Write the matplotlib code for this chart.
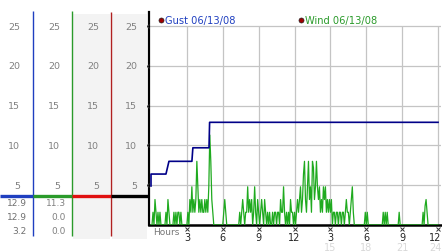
import numpy as np
import matplotlib
matplotlib.use("Agg")
from matplotlib import pyplot as plt

# ---------------------------------------------------------------- data
# gust (mph), step line over the day
gust_hours = [0.0, 0.0, 1.25, 1.5, 3.42, 3.5, 4.85, 4.9, 24.0]
gust_mph = [4.9, 6.4, 6.4, 8.0, 8.0, 9.7, 9.7, 12.9, 12.9]

# wind (mph), 5-minute samples, one row per hour
wind_mph = [
    0, 0, 1.6, 0, 3.2, 1.6, 0, 1.6, 0, 1.6, 0, 0,
    0, 0, 0, 1.6, 0, 3.2, 1.6, 0, 0, 0, 0, 1.6,
    0, 1.6, 0, 1.6, 1.6, 0, 1.6, 0, 0, 0, 0, 0,
    0, 1.6, 0, 3.2, 1.6, 4.8, 1.6, 3.2, 1.6, 3.2, 8.0, 4.8,
    1.6, 3.2, 1.6, 3.2, 1.6, 1.6, 3.2, 1.6, 3.2, 1.6, 4.8, 11.3,
    8.0, 3.2, 1.6, 0, 0, 0, 0, 0, 0, 0, 0, 0,
    0, 1.6, 3.2, 1.6, 0, 0, 0, 0, 0, 0, 0, 0,
    0, 0, 0, 0, 0, 1.6, 0, 1.6, 3.2, 1.6, 0, 1.6,
    1.6, 4.8, 1.6, 3.2, 1.6, 3.2, 0, 1.6, 4.8, 1.6, 0, 3.2,
    1.6, 0, 1.6, 3.2, 1.6, 0, 3.2, 1.6, 0, 1.6, 0, 1.6,
    0, 0, 1.6, 0, 1.6, 1.6, 0, 1.6, 1.6, 0, 3.2, 1.6,
    1.6, 4.8, 1.6, 0, 1.6, 0, 1.6, 0, 3.2, 1.6, 1.6, 0,
    1.6, 0, 1.6, 3.2, 1.6, 3.2, 4.8, 1.6, 3.2, 6.4, 8.0, 3.2,
    1.6, 4.8, 8.0, 3.2, 4.8, 1.6, 8.0, 7.2, 3.2, 4.8, 8.0, 4.8,
    3.2, 4.8, 1.6, 3.2, 1.6, 4.8, 3.2, 4.8, 1.6, 3.2, 1.6, 3.2,
    1.6, 3.2, 0, 1.6, 1.6, 0, 1.6, 1.6, 0, 1.6, 1.6, 0,
    1.6, 1.6, 0, 1.6, 3.2, 1.6, 1.6, 0, 1.6, 3.2, 4.8, 1.6,
    0, 0, 0, 0, 0, 0, 0, 0, 0, 0, 0, 1.6,
    0, 1.6, 0, 0, 0, 0, 0, 0, 0, 0, 0, 0,
    0, 0, 0, 0, 0, 1.6, 0, 1.6, 0, 1.6, 0, 0,
    0, 0, 0, 0, 0, 0, 0, 0, 0, 1.6, 0, 0,
    0, 0, 0, 0, 0, 0, 0, 0, 0, 0, 0, 0,
    0, 0, 0, 0, 0, 0, 0, 0, 0, 1.6, 0, 2.4,
    3.2, 1.6, 0, 0, 0, 0, 0, 0, 0, 0, 0, 0,
    0,
]
wind_hours = np.arange(len(wind_mph)) / 12.0

y_ticks = [5, 10, 15, 20, 25]
x_ticks = [3, 6, 9, 12, 15, 18, 21, 24]
x_labels = ["3", "6", "9", "12", "3", "6", "9", "12"]
x_labels_24 = ["15", "18", "21", "24"]

gust_stats = ["12.9", "12.9", "3.2"]
wind_stats = ["11.3", "0.0", "0.0"]

legend_items = [("Gust 06/13/08", 0.0, "#1f3fc0"), ("Wind 06/13/08", 11.7, "#2a9a2a")]

# ---------------------------------------------------------------- layout
W, H = 442, 253
PX_UNIT = 7.96      # pixels per mph
Y0 = 226            # pixel row of 0 mph
X0 = 151            # pixel column of hour 0
PX_HOUR = 11.96

fig = plt.figure(figsize=(W / 100, H / 100), dpi=100)
fig.patch.set_facecolor("white")

def v2px(v):
    return Y0 - v * PX_UNIT

# main plot
left, right, top = 149, 441, 13
ax = fig.add_axes([left / W, (H - Y0) / H, (right - left) / W, (Y0 - top) / H])
ax.set_xlim((left - X0) / PX_HOUR, (right - X0) / PX_HOUR)
ax.set_ylim(0, (Y0 - top) / PX_UNIT)
ax.set_facecolor("white")
for s in ["top", "right"]:
    ax.spines[s].set_visible(False)
ax.spines["left"].set_linewidth(1.6)
ax.spines["bottom"].set_linewidth(1.8)
ax.spines["left"].set_color("black")
ax.spines["bottom"].set_color("black")
ax.set_xticks([])
ax.set_yticks([])

ax.hlines(y_ticks, ax.get_xlim()[0], ax.get_xlim()[1], color="#c4c4c4", lw=0.9, zorder=1)
ax.vlines(x_ticks, 0, 25, color="#c4c4c4", lw=0.9, zorder=1)

ax.plot(wind_hours, wind_mph, color="#1faa1f", lw=0.9, zorder=3)
ax.plot(gust_hours, gust_mph, color="#000088", lw=1.2, zorder=4)

# small tick marks
ax.plot([-0.3] * len(y_ticks), y_ticks, ls="none", marker="x", ms=2.2, mew=0.7,
        color="#333333", clip_on=False, zorder=5)
ax.plot(x_ticks, [-0.5] * len(x_ticks), ls="none", marker="x", ms=2.2, mew=0.7,
        color="#333333", clip_on=False, zorder=5)

for xt, lab in zip(x_ticks, x_labels):
    xt = min(xt, 23.75)
    ax.text(xt, -1.5, lab, ha="center", va="center", fontsize=7, color="#222222", clip_on=False)
for xt, lab in zip(x_ticks[4:], x_labels_24):
    xt = min(xt, 23.75)
    ax.text(xt, -2.75, lab, ha="center", va="center", fontsize=7, color="#d8d8d8", clip_on=False)
ax.text(0.15, -0.8, "Hours", ha="left", va="center", fontsize=6.5, color="#777777", clip_on=False)

# legend
for lab, xh, col in legend_items:
    ax.plot([xh + 0.85], [25.7], ls="none", marker="o", ms=3.6, mfc="#a00000", mec="#222222",
            mew=0.5, clip_on=False)
    ax.text(xh + 1.15, 25.75, lab, ha="left", va="center", fontsize=7.1, color=col)

# left panel (pixel coordinates)
axl = fig.add_axes([0, 0, left / W, 1])
axl.set_xlim(0, left)
axl.set_ylim(H, 0)
axl.axis("off")

axl.fill_between([73, 110], 15, 240, color="#f3f3f3", lw=0)
axl.fill_between([112, 147], 15, 240, color="#f3f3f3", lw=0)
axl.vlines(33, 12, 237, color="#1f3fc0", lw=1.0)
axl.vlines(72, 12, 237, color="#2a9a2a", lw=1.0)
axl.vlines(111, 13, 237, color="#b02020", lw=1.0)

sep = 197
axl.hlines(sep, 0, 33, color="#1f3fc0", lw=2.4)
axl.hlines(sep, 33, 72, color="#2a9a2a", lw=2.4)
axl.hlines(sep, 72, 111, color="#e01010", lw=2.4)
axl.hlines(sep, 111, left, color="black", lw=2.4)

for col_x in [20, 60, 99, 137]:
    for v in y_ticks:
        axl.text(col_x, v2px(v), str(v), ha="right", va="center", fontsize=6.8, color="#808080")

for i, (g, w) in enumerate(zip(gust_stats, wind_stats)):
    yy = 204 + i * 14
    axl.text(27, yy, g, ha="right", va="center", fontsize=6.5, color="#707070")
    axl.text(66, yy, w, ha="right", va="center", fontsize=6.5, color="#808080")

fig.savefig("out.png", dpi=100)
plt.close(fig)
